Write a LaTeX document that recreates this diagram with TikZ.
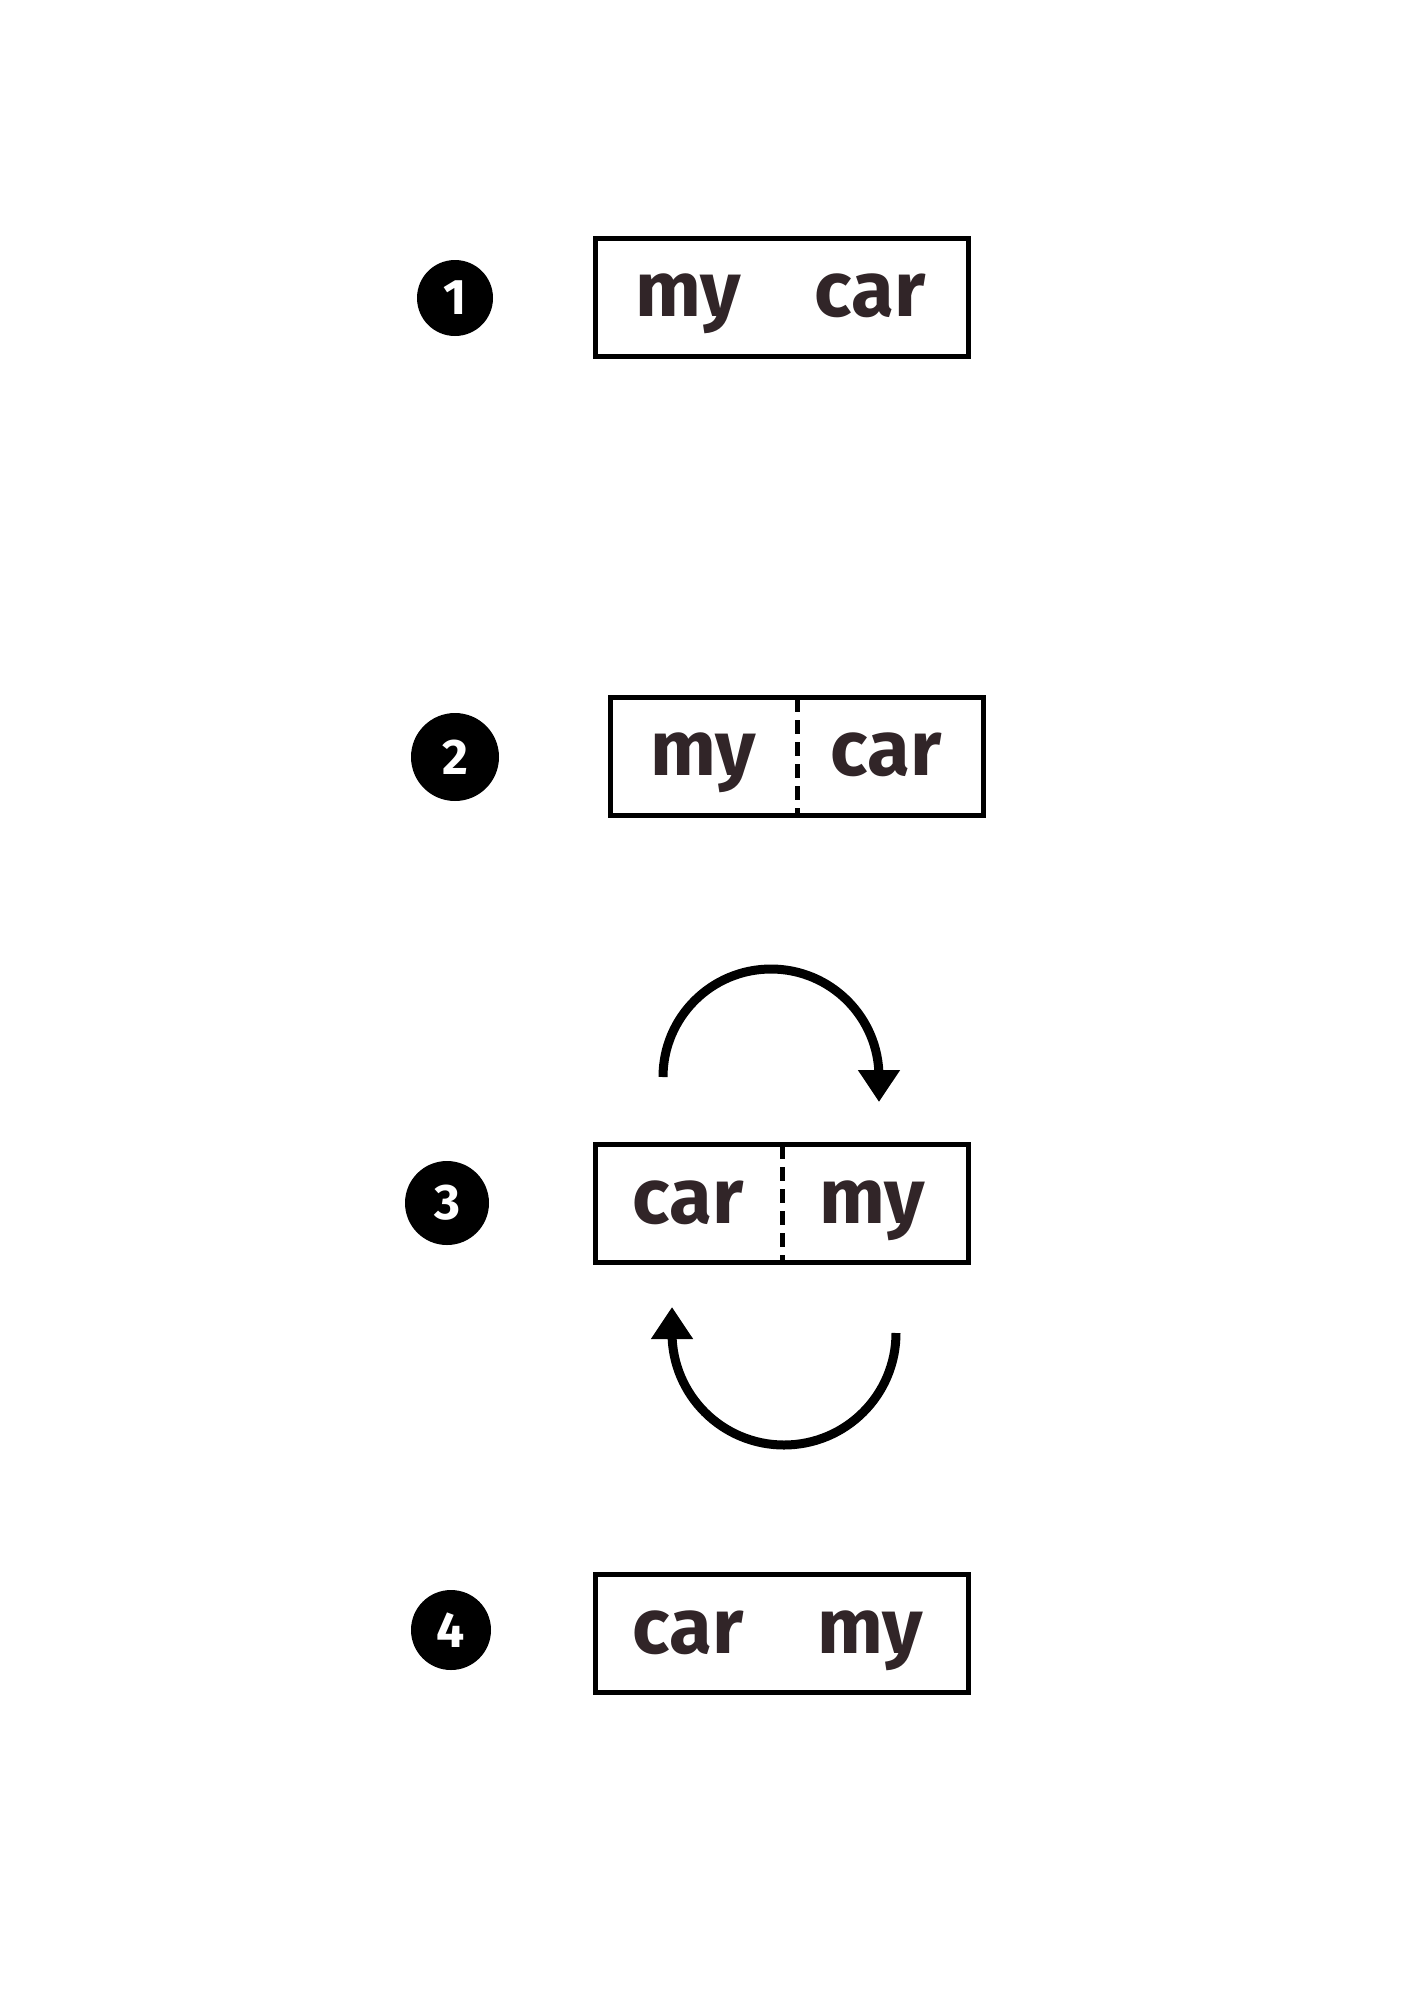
\documentclass[tikz,border=0pt]{standalone}
\usepackage{fontspec}
\setmainfont{Fira Sans}
\usetikzlibrary{arrows.meta}
\definecolor{txt}{HTML}{312528}
\begin{document}
\begin{tikzpicture}[x=1pt,y=1pt,
  wbox/.style={draw,line width=5pt,minimum width=373pt,minimum height=118pt,inner sep=0pt},
  word/.style={font=\fontsize{78}{80}\selectfont\bfseries,text=txt,inner sep=0pt,anchor=base},
  numc/.style={circle,fill=black,text=white,inner sep=0pt,font=\fontsize{50}{52}\selectfont\bfseries},
  divl/.style={line width=5pt,dash pattern=on 14pt off 8pt},
  swap/.style={line width=9pt,-{Triangle[length=32pt,width=40pt]}}]
\useasboundingbox (0,0) rectangle (1414,-2000);
% step 1
\node[numc,minimum size=76pt] (n1) at (455,-298) {1};
\node[wbox] (b1) at (781.5,-297) {};
\node[word] (m1) at (688,-316) {my};
\node[word] (c1) at (870,-316) {car};
% step 2
\node[numc,minimum size=88pt] (n2) at (455,-757) {2};
\node[wbox] (b2) at (796.5,-756) {};
\node[word] (m2) at (703,-775) {my};
\node[word] (c2) at (886,-775) {car};
\coordinate (d2t) at (797,-698);
\coordinate (d2b) at (797,-814);
\draw[divl] (d2t) -- (d2b);
% step 3
\node[numc,minimum size=84pt] (n3) at (447,-1203) {3};
\node[wbox] (b3) at (782,-1203.5) {};
\node[word] (c3) at (688,-1223) {car};
\node[word] (m3) at (872,-1223) {my};
\coordinate (d3t) at (782,-1145);
\coordinate (d3b) at (782,-1262);
\draw[divl] (d3t) -- (d3b);
\coordinate (a1s) at (663,-1077);
\coordinate (a1e) at (879,-1102);
\draw[swap] (a1s) arc (180:0:108) -- (a1e);
\coordinate (a2s) at (896,-1333);
\coordinate (a2e) at (672,-1307);
\draw[swap] (a2s) arc (0:-180:112) -- (a2e);
% step 4
\node[numc,minimum size=80pt] (n4) at (451,-1630) {4};
\node[wbox] (b4) at (781.5,-1633.5) {};
\node[word] (c4) at (688,-1653) {car};
\node[word] (m4) at (870,-1653) {my};
\end{tikzpicture}
\end{document}
